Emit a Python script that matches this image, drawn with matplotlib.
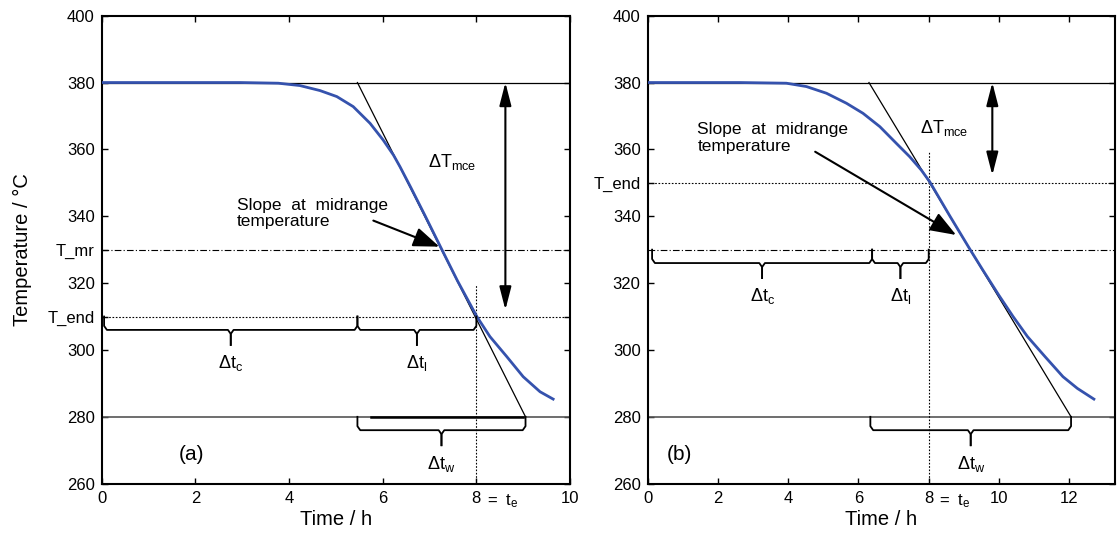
import matplotlib
matplotlib.use("Agg")
import matplotlib.pyplot as plt

plt.rcParams['font.family'] = ['Liberation Sans', 'DejaVu Sans']
plt.rcParams['mathtext.fontset'] = 'custom'
plt.rcParams['mathtext.rm'] = 'Liberation Sans'
plt.rcParams['mathtext.it'] = 'Liberation Sans'
plt.rcParams['mathtext.default'] = 'regular'

# === DATA ===
# panel (a)
time_a = [0, 2.96, 3.77, 4.23, 4.66, 5.02, 5.37, 5.73, 6.01, 6.23, 6.37, 6.6,
          6.9, 7.25, 7.6, 8.01, 8.29, 8.65, 9.0, 9.36, 9.64]
temp_a = [380, 380, 379.8, 379.1, 377.6, 375.8, 372.8, 367.8, 362.8, 358.3, 354.8,
          348.6, 340.3, 330.4, 320.6, 310.0, 304.0, 298.0, 292.0, 287.5, 285.3]
tangent_a_x = [5.46, 9.05]
t_mr_a = 330
t_end_a = 310
dt_c_a = (0.05, 5.46)
dt_l_a = (5.46, 8.0)
dt_w_a = (5.46, 9.05)

# panel (b)
time_b = [0, 2.63, 3.95, 4.52, 5.09, 5.66, 6.13, 6.61, 7.08, 7.46, 7.79, 8.03,
          8.6, 9.18, 9.54, 10.0, 10.4, 10.81, 11.31, 11.82, 12.23, 12.7]
temp_b = [380, 380, 379.8, 378.8, 376.8, 373.8, 370.8, 366.8, 361.8, 357.8, 353.8,
          350.3, 340.1, 330.0, 323.9, 316.3, 310.0, 304.0, 298.0, 292.0, 288.5, 285.3]
tangent_b_x = [6.30, 12.05]
t_mr_b = 330
t_end_b = 350
dt_c_b = (0.13, 6.39)
dt_l_b = (6.39, 8.0)
dt_w_b = (6.34, 12.05)

tangent_y = [380, 280]
t_start = 380
t_low = 280
t_e = 8

yticks_a = [260, 280, 300, t_end_a, 320, t_mr_a, 340, 360, 380, 400]
ylabels_a = ['260', '280', '300', 'T_end', '320', 'T_mr', '340', '360', '380', '400']
yticks_b = [260, 280, 300, 320, 340, t_end_b, 360, 380, 400]
ylabels_b = ['260', '280', '300', '320', '340', 'T_end', '360', '380', '400']
xticks_a = [0, 2, 4, 6, 8, 10]
xticks_b = [0, 2, 4, 6, 8, 10, 12]

blue = '#3552ad'


def brace(ax, x0, x1, y, label, drop=4.0, tip=8.5):
    xc = (x0 + x1) / 2
    lo, hi = ax.get_xlim()
    dx = (hi - lo) * 0.006
    left = [(x0, y), (x0, y - drop + 1.2), (x0 + dx, y - drop), (xc - dx, y - drop),
            (xc, y - drop - 1.2), (xc, y - tip)]
    right = [(x1, y), (x1, y - drop + 1.2), (x1 - dx, y - drop), (xc + dx, y - drop),
             (xc, y - drop - 1.2), (xc, y - tip)]
    for pts in (left, right):
        ax.plot([p[0] for p in pts], [p[1] for p in pts], color='black', lw=1.3,
                solid_joinstyle='round', zorder=4)
    ax.text(xc, y - 14, label, ha='center', va='center', fontsize=13)


def setup(ax, xmax, xticks, yticks, ylabels):
    ax.set_xlim(0, xmax)
    ax.set_ylim(260, 400)
    ax.set_xticks(xticks)
    ax.set_xticklabels([str(t) for t in xticks])
    ax.set_yticks(yticks)
    ax.set_yticklabels(ylabels)
    ax.tick_params(direction='in', length=4, width=1, top=True, right=True,
                   labelsize=12, pad=5)
    for s in ax.spines.values():
        s.set_linewidth(1.5)
    ax.set_xlabel('Time / h', fontsize=14.5, labelpad=3)
    ax.annotate('=  t$_e$', xy=(t_e, 0), xycoords=('data', 'axes fraction'),
                xytext=(7.5, -6), textcoords='offset points', ha='left', va='top',
                fontsize=12)


fig = plt.figure(figsize=(11.17, 5.37), dpi=100)
ax1 = fig.add_axes([0.0911, 0.0993, 0.4192, 0.8715])
ax2 = fig.add_axes([0.5797, 0.0993, 0.4185, 0.8715])

# === panel (a)
setup(ax1, 10, xticks_a, yticks_a, ylabels_a)
ax1.set_ylabel('Temperature / °C', fontsize=14.5)
ax1.yaxis.set_label_coords(-0.15, 0.5)
ax1.axhline(t_start, color='black', lw=0.9)
ax1.axhline(t_low, color='#555555', lw=1.2)
ax1.plot([5.75, 9.0], [t_low, t_low], color='black', lw=1.8)
ax1.axhline(t_mr_a, color='black', lw=0.8, linestyle=(0, (6, 2, 1, 2)))
ax1.axhline(t_end_a, color='black', lw=0.8, linestyle=(0, (1.5, 1.5)))
ax1.plot([t_e, t_e], [260, 319.5], color='black', lw=0.8, linestyle=(0, (1.5, 1.5)))
ax1.plot(tangent_a_x, tangent_y, color='black', lw=0.9, zorder=3)
ax1.plot(time_a, temp_a, color=blue, lw=2.0, zorder=3, solid_joinstyle='round')
brace(ax1, *dt_c_a, t_end_a, 'Δt$_c$')
brace(ax1, *dt_l_a, t_end_a, 'Δt$_l$')
brace(ax1, *dt_w_a, t_low, 'Δt$_w$')
ax1.annotate('', xy=(8.62, 312), xytext=(8.62, 380),
             arrowprops=dict(arrowstyle='<|-|>,head_length=0.7,head_width=0.18',
                             mutation_scale=20, color='black', lw=1.5,
                             shrinkA=0, shrinkB=0))
ax1.text(6.96, 356.3, 'ΔT$_{mce}$', ha='left', va='center', fontsize=13)
ax1.text(2.88, 340.8, 'Slope  at  midrange\ntemperature', ha='left', va='center',
         fontsize=12.5, linespacing=1.15)
ax1.annotate('', xy=(7.21, 330.9), xytext=(5.80, 338.7),
             arrowprops=dict(arrowstyle='-|>,head_length=0.8,head_width=0.3',
                             mutation_scale=20, color='black', lw=1.5,
                             shrinkA=0, shrinkB=0))
ax1.text(1.91, 268.6, '(a)', ha='center', va='center', fontsize=15)

# === panel (b)
setup(ax2, 13.3, xticks_b, yticks_b, ylabels_b)
ax2.axhline(t_start, color='black', lw=0.9)
ax2.axhline(t_low, color='#555555', lw=1.2)
ax2.axhline(t_mr_b, color='black', lw=0.8, linestyle=(0, (6, 2, 1, 2)))
ax2.axhline(t_end_b, color='black', lw=0.8, linestyle=(0, (1.5, 1.5)))
ax2.plot([t_e, t_e], [260, 359.3], color='black', lw=0.8, linestyle=(0, (1.5, 1.5)))
ax2.plot(tangent_b_x, tangent_y, color='black', lw=0.9, zorder=3)
ax2.plot(time_b, temp_b, color=blue, lw=2.0, zorder=3, solid_joinstyle='round')
brace(ax2, *dt_c_b, t_mr_b, 'Δt$_c$')
brace(ax2, *dt_l_b, t_mr_b, 'Δt$_l$')
brace(ax2, *dt_w_b, t_low, 'Δt$_w$')
ax2.annotate('', xy=(9.81, 352.3), xytext=(9.81, 380),
             arrowprops=dict(arrowstyle='<|-|>,head_length=0.7,head_width=0.18',
                             mutation_scale=20, color='black', lw=1.5,
                             shrinkA=0, shrinkB=0))
ax2.text(7.76, 366.3, 'ΔT$_{mce}$', ha='left', va='center', fontsize=13)
ax2.text(1.42, 363.4, 'Slope  at  midrange\ntemperature', ha='left', va='center',
         fontsize=12.5, linespacing=1.15)
ax2.annotate('', xy=(8.78, 334.4), xytext=(4.77, 359.3),
             arrowprops=dict(arrowstyle='-|>,head_length=0.8,head_width=0.3',
                             mutation_scale=20, color='black', lw=1.5,
                             shrinkA=0, shrinkB=0))
ax2.text(0.91, 268.6, '(b)', ha='center', va='center', fontsize=15)

fig.savefig('out.png', dpi=100)
